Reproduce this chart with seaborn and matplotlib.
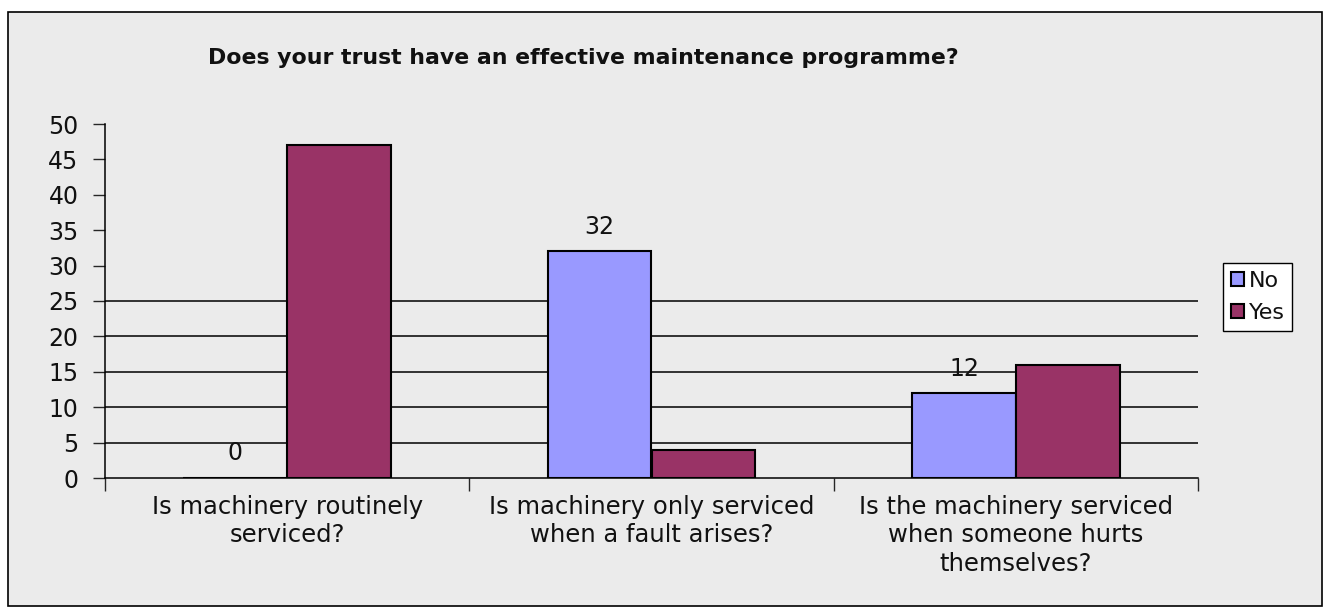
import matplotlib
matplotlib.use("Agg")
import matplotlib.pyplot as plt
from matplotlib.patches import Rectangle
import seaborn as sns
import pandas as pd

# survey answers
questions = ["Is machinery routinely\nserviced?",
             "Is machinery only serviced\nwhen a fault arises?",
             "Is the machinery serviced\nwhen someone hurts\nthemselves?"]
answers = ["No", "Yes"]
no_counts = [0, 32, 12]
yes_counts = [47, 4, 16]
y_ticks = [0, 5, 10, 15, 20, 25, 30, 35, 40, 45, 50]
grid_levels = [5, 10, 15, 20, 25]

colors = {"No": "#9999FF", "Yes": "#993366"}
bg = "#EBEBEB"

df = pd.DataFrame({
    "question": questions * 2,
    "answer": ["No"] * 3 + ["Yes"] * 3,
    "count": no_counts + yes_counts,
})

sns.set_style("white")
plt.rcParams["font.family"] = ["DejaVu Sans"]
plt.rcParams["text.color"] = "#111111"

fig = plt.figure(figsize=(13.3, 6.14), dpi=100, facecolor="white")
# chart area border
fig.patches.append(Rectangle((8 / 1330, 1 - 606 / 614), 1314 / 1330, 594 / 614,
                             transform=fig.transFigure, facecolor=bg,
                             edgecolor="black", linewidth=1.2, zorder=-10))

ax = fig.add_axes([105 / 1330, 1 - 478 / 614, 1093 / 1330, 354 / 614])
ax.set_facecolor(bg)

sns.barplot(data=df, x="question", y="count", hue="answer", hue_order=answers,
            palette=colors, width=0.57, edgecolor="black", linewidth=1.5,
            saturation=1, ax=ax, zorder=3)

ax.bar_label(ax.containers[0], padding=9, fontsize=17, color="#111111")

ax.hlines(grid_levels, -0.5, 2.5, color="black", linewidth=1.1, zorder=1)

ax.set_xlim(-0.5, 2.5)
ax.set_ylim(0, 50)
ax.set_yticks(y_ticks)
ax.tick_params(axis="y", labelsize=17, length=9, width=1, left=True, pad=10,
               labelcolor="#111111")
ax.set_xticks([-0.5, 0.5, 1.5, 2.5], minor=True)
ax.tick_params(axis="x", which="minor", length=9, width=1, bottom=True)
ax.tick_params(axis="x", which="major", length=0, labelsize=17.5, pad=12,
               labelcolor="#111111")
for lbl in ax.get_xticklabels():
    lbl.set_linespacing(1.25)
ax.set_xlabel("")
ax.set_ylabel("")
for s in ["top", "right"]:
    ax.spines[s].set_visible(False)
for s in ["left", "bottom"]:
    ax.spines[s].set_color("black")
    ax.spines[s].set_linewidth(1.1)

fig.text(583 / 1330, 1 - 58 / 614, "Does your trust have an effective maintenance programme?",
         ha="center", va="center", fontsize=15.8, fontweight="bold")

leg = ax.legend(title=None, loc="upper left",
                bbox_to_anchor=(1223 / 1330, 1 - 263 / 614),
                bbox_transform=fig.transFigure, fontsize=16,
                frameon=True, fancybox=False, edgecolor="black", framealpha=1,
                handlelength=0.6, handleheight=0.6, handletextpad=0.2,
                borderpad=0.35, labelspacing=0.55, borderaxespad=0)
leg.get_frame().set_linewidth(1)

fig.savefig("out.png", dpi=100, facecolor="white")
